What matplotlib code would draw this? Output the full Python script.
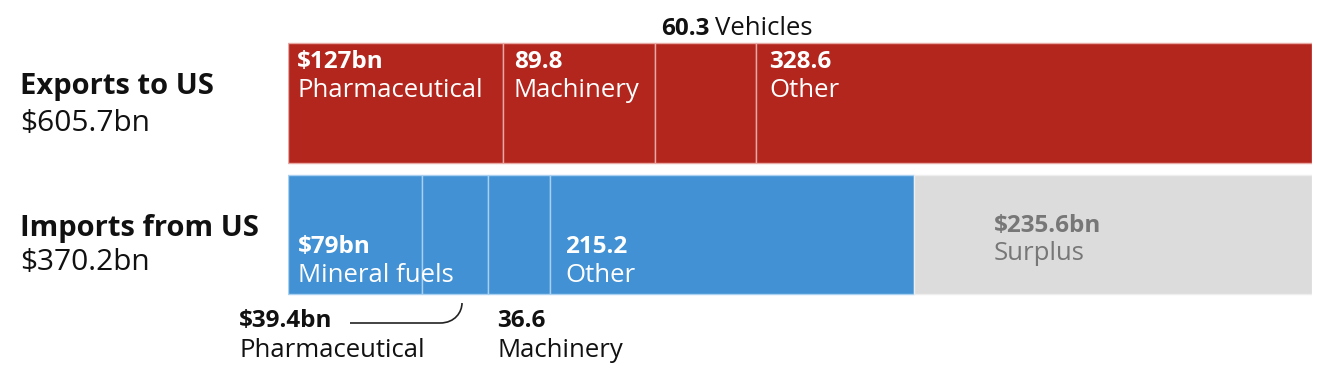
import matplotlib
matplotlib.use("Agg")
import matplotlib.pyplot as plt
from matplotlib.path import Path
from matplotlib.patches import PathPatch
import numpy as np

plt.rcParams['font.family'] = ['Open Sans', 'DejaVu Sans']

# ---- data ----
export_cats = ["Pharmaceutical", "Machinery", "Vehicles", "Other"]
export_vals = [127.0, 89.8, 60.3, 328.6]
export_value_labels = ["$127bn", "89.8", "60.3", "328.6"]
export_total = 605.7

import_cats = ["Mineral fuels", "Pharmaceutical", "Machinery", "Other"]
import_vals = [79.0, 39.4, 36.6, 215.2]
import_value_labels = ["$79bn", "$39.4bn", "36.6", "215.2"]
import_total = 370.2
surplus = 235.6

RED = "#B3261E"
BLUE = "#4191D4"
GRAY = "#DCDCDC"

W, H = 1320, 380
fig = plt.figure(figsize=(W / 100, H / 100), dpi=100)
x0, x1 = 288, 1312
ax = fig.add_axes([x0 / W, 0, (x1 - x0) / W, 1])
ax.set_xlim(0, export_total)
ax.set_ylim(H, 0)
ax.axis("off")

ey, eh = 43, 120
iy, ih = 175, 119

# exports bar
starts = np.concatenate([[0], np.cumsum(export_vals)[:-1]])
ax.barh(ey, export_vals, left=starts, height=eh, align="edge",
        color=RED, edgecolor="#E8A9A5", linewidth=1.0)
# imports bar
istarts = np.concatenate([[0], np.cumsum(import_vals)[:-1]])
ax.barh(iy, import_vals, left=istarts, height=ih, align="edge",
        color=BLUE, edgecolor="#A9D0F0", linewidth=1.0)
ax.barh(iy, [surplus], left=[import_total], height=ih, align="edge",
        color=GRAY, edgecolor="#EEEEEE", linewidth=1.0)

FS = 18.5
FSB = 17.5
DARK = "#111111"

def seg_label(x, yb1, yb2, v, c, color="white", dx=9):
    ax.annotate(v, xy=(x, yb1), xytext=(dx, 0), textcoords="offset pixels",
                ha="left", va="baseline", fontsize=FSB, fontweight="bold",
                color=color, annotation_clip=False)
    ax.annotate(c, xy=(x, yb2), xytext=(dx, 0), textcoords="offset pixels",
                ha="left", va="baseline", fontsize=FS, color=color,
                annotation_clip=False)

# export labels
for i, dx in zip([0, 1, 3], [9, 11, 13]):
    seg_label(starts[i], 68, 97, export_value_labels[i], export_cats[i], dx=dx)
# vehicles above
t = ax.annotate(export_value_labels[2], xy=(starts[2], 35), xytext=(7, 0),
                textcoords="offset pixels", ha="left", va="baseline",
                fontsize=FSB, fontweight="bold", color=DARK,
                annotation_clip=False)
fig.canvas.draw()
bb = t.get_window_extent()
fig.text((bb.x1 + 5) / W, 1 - 35 / H, export_cats[2], ha="left", va="baseline",
         fontsize=FS, color=DARK)

# import labels
seg_label(istarts[0], 253, 282, import_value_labels[0], import_cats[0], dx=10)
seg_label(istarts[3], 253, 282, import_value_labels[3], import_cats[3], dx=15)
seg_label(import_total, 232, 260, "$%.1fbn" % surplus, "Surplus",
          color="#777777", dx=80)

# below labels
ax.annotate(import_value_labels[2], xy=(istarts[2], 327), xytext=(9, 0),
            textcoords="offset pixels", ha="left", va="baseline", fontsize=FSB,
            fontweight="bold", color=DARK, annotation_clip=False)
ax.annotate(import_cats[2], xy=(istarts[2], 357), xytext=(9, 0),
            textcoords="offset pixels", ha="left", va="baseline", fontsize=FS,
            color=DARK, annotation_clip=False)
fig.text(239 / W, 1 - 327 / H, import_value_labels[1], ha="left", va="baseline",
         fontsize=FSB, fontweight="bold", color=DARK)
fig.text(239 / W, 1 - 357 / H, import_cats[1], ha="left", va="baseline",
         fontsize=FS, color=DARK)

# leader line
def px(x, y):
    return (x / W, 1 - y / H)
verts = [px(350, 323), px(440, 323), px(455, 323), px(462, 312), px(462, 303)]
codes = [Path.MOVETO, Path.LINETO, Path.CURVE4, Path.CURVE4, Path.CURVE4]
fig.add_artist(PathPatch(Path(verts, codes), transform=fig.transFigure,
                         fill=False, edgecolor="#222222", linewidth=1.2))

# left titles
fig.text(20 / W, 1 - 94 / H, "Exports to US", ha="left", va="baseline",
         fontsize=21, fontweight="bold", color=DARK)
fig.text(20 / W, 1 - 131 / H, "$%.1fbn" % export_total, ha="left",
         va="baseline", fontsize=21.5, color=DARK)
fig.text(20 / W, 1 - 236 / H, "Imports from US", ha="left", va="baseline",
         fontsize=21, fontweight="bold", color=DARK)
fig.text(20 / W, 1 - 270 / H, "$%.1fbn" % import_total, ha="left",
         va="baseline", fontsize=21.5, color=DARK)

fig.savefig("out.png", dpi=100, facecolor="white")
